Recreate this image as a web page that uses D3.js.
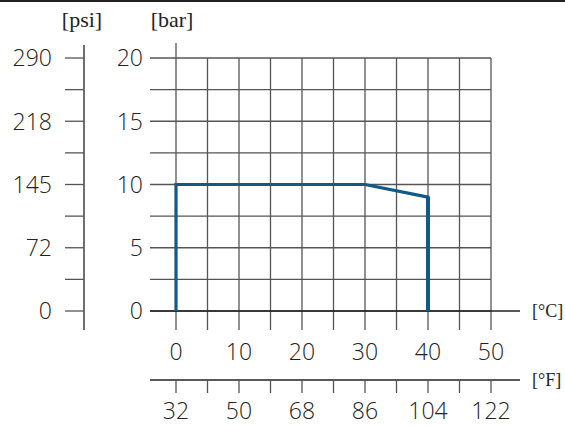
<!DOCTYPE html>
<html><head><meta charset="utf-8">
<script src="https://cdn.jsdelivr.net/npm/d3@7"></script>
<style>body{margin:0;background:#fff}svg{display:block}</style>
</head><body>
<svg id="c" width="565" height="427"></svg>
<script>
const tempC = [0, 0, 30, 40, 40];
const pressureBar = [0, 10, 10, 9, 0];
const cTicks = [0, 10, 20, 30, 40, 50];
const fTickLabels = ["32", "50", "68", "86", "104", "122"];
const barTicks = [0, 5, 10, 15, 20];
const psiTickLabels = ["0", "72", "145", "218", "290"];

const svg = d3.select("#c");
const x = d3.scaleLinear().domain([0, 50]).range([176, 491]);
const y = d3.scaleLinear().domain([0, 20]).range([311, 58]);
const ink = "#222";
const grid = "#555";
const font = "'Open Sans', sans-serif";
const fw = 300;
const fs = 23;
const ufont = "'Liberation Serif', 'DejaVu Serif', serif";

svg.append("rect").attr("x",0).attr("y",0).attr("width",565).attr("height",2).attr("fill","#222");

const minor = d3.range(0, 20.01, 2.5);
const minorX = d3.range(0, 50.01, 5);

svg.append("g").selectAll("line").data(minor).join("line")
  .attr("x1",150).attr("x2",491).attr("y1",d=>y(d)).attr("y2",d=>y(d))
  .attr("stroke",grid).attr("stroke-width",1.3);
svg.append("g").selectAll("line").data(minorX).join("line")
  .attr("x1",d=>x(d)).attr("x2",d=>x(d)).attr("y1",d=>d===0?43:y(20)).attr("y2",330)
  .attr("stroke",grid).attr("stroke-width",1.3);
svg.append("line").attr("x1",150).attr("x2",520).attr("y1",y(0)).attr("y2",y(0)).attr("stroke",ink).attr("stroke-width",1.3);

function label(sel){ return sel.attr("font-family",font).attr("font-weight",fw).attr("font-size",fs).attr("fill",ink); }

label(svg.append("g").selectAll("text").data(barTicks).join("text")
  .attr("x",143).attr("y",d=>y(d)).attr("dy","0.36em").attr("text-anchor","end")).text(d=>d);
svg.append("text").attr("x",172).attr("y",27).attr("text-anchor","middle")
  .attr("font-family",ufont).attr("font-size",22).attr("fill",ink).text("[bar]");

svg.append("line").attr("x1",84).attr("x2",84).attr("y1",45).attr("y2",330).attr("stroke",ink).attr("stroke-width",1.3);
svg.append("g").selectAll("line").data(minor).join("line")
  .attr("x1",65).attr("x2",84).attr("y1",d=>y(d)).attr("y2",d=>y(d)).attr("stroke",grid).attr("stroke-width",1.3);
label(svg.append("g").selectAll("text").data(barTicks).join("text")
  .attr("x",52).attr("y",d=>y(d)).attr("dy","0.36em").attr("text-anchor","end")).text((d,i)=>psiTickLabels[i]);
svg.append("text").attr("x",82).attr("y",27).attr("text-anchor","middle")
  .attr("font-family",ufont).attr("font-size",22).attr("fill",ink).text("[psi]");

label(svg.append("g").selectAll("text").data(cTicks).join("text")
  .attr("x",d=>x(d)).attr("y",352).attr("dy","0.36em").attr("text-anchor","middle")).text(d=>d);
svg.append("text").attr("x",532).attr("y",y(0)).attr("dy","0.34em")
  .attr("font-family",ufont).attr("font-size",18).attr("fill",ink).text("[°C]");

const fy = 380;
svg.append("line").attr("x1",150).attr("x2",520).attr("y1",fy).attr("y2",fy).attr("stroke",ink).attr("stroke-width",1.3);
svg.append("g").selectAll("line").data(minorX).join("line")
  .attr("x1",d=>x(d)).attr("x2",d=>x(d)).attr("y1",fy).attr("y2",fy+13).attr("stroke",grid).attr("stroke-width",1.3);
label(svg.append("g").selectAll("text").data(cTicks).join("text")
  .attr("x",d=>x(d)).attr("y",411).attr("dy","0.36em").attr("text-anchor","middle")).text((d,i)=>fTickLabels[i]);
svg.append("text").attr("x",532).attr("y",fy).attr("dy","0.34em")
  .attr("font-family",ufont).attr("font-size",18).attr("fill",ink).text("[°F]");

const pts = tempC.map((t,i)=>[t, pressureBar[i]]);
svg.append("path").datum(pts)
  .attr("d", d3.line().x(d=>x(d[0])).y(d=>y(d[1])))
  .attr("fill","none").attr("stroke","#0f5a86").attr("stroke-width",3.2).attr("stroke-linejoin","miter");
svg.append("path").datum(pts.slice(3))
  .attr("d", d3.line().x(d=>x(d[0])).y(d=>y(d[1])))
  .attr("fill","none").attr("stroke","#0f5a86").attr("stroke-width",4);
</script>
</body></html>
